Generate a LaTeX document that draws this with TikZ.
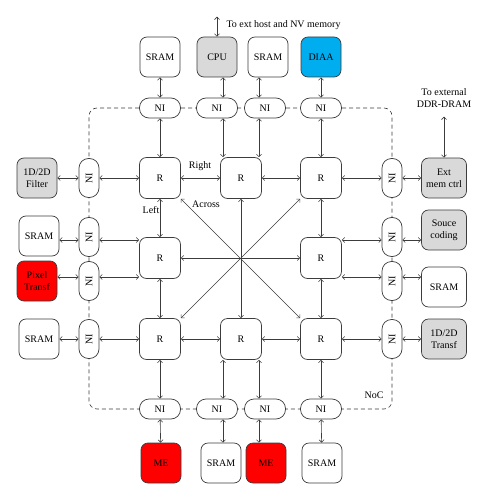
\documentclass[tikz,border=0pt]{standalone}
\usepackage{fontspec}
\setmainfont{Liberation Serif}
\usetikzlibrary{arrows.meta,backgrounds}
\definecolor{linegray}{RGB}{60,60,60}
\definecolor{unitgray}{RGB}{217,217,217}
\definecolor{diaablue}{RGB}{0,174,239}
\definecolor{unitred}{RGB}{255,0,0}
\begin{document}
\begin{tikzpicture}[x=1pt,y=-1pt,
    font=\fontsize{10}{12}\selectfont,
    >={Straight Barb[length=2.5pt,width=5pt]},
    unit/.style={draw=linegray, line width=0.7pt, rounded corners=7pt, fill=white,
        minimum width=40pt, minimum height=40pt, inner sep=1pt, align=center},
    router/.style={unit, minimum width=41pt, minimum height=41pt},
    ni/.style={draw=linegray, line width=0.7pt, rounded corners=9.5pt, fill=white,
        minimum width=41pt, minimum height=20pt, inner sep=0pt},
    nivert/.style={ni, minimum width=20pt, minimum height=39pt},
    link/.style={draw=linegray, line width=0.6pt, <->},
    noc/.style={draw=linegray, line width=0.6pt, dash pattern=on 4pt off 3pt, rounded corners=8pt}]
    \useasboundingbox (0,0) rectangle (489,500);

    % Routers (ring of eight)
    \node[router] (r11) at (160,178) {R};
    \node[router] (r12) at (241,178) {R};
    \node[router] (r13) at (321,178) {R};
    \node[router] (r21) at (160,258) {R};
    \node[router] (r23) at (321,258) {R};
    \node[router] (r31) at (160,339) {R};
    \node[router] (r32) at (241,339) {R};
    \node[router] (r33) at (321,339) {R};

    % Network interfaces
    \node[ni] (nt1) at (160,108) {NI};
    \node[ni] (nt2) at (217,108) {NI};
    \node[ni] (nt3) at (265,108) {NI};
    \node[ni] (nt4) at (321,108) {NI};
    \node[ni] (nb1) at (160,409) {NI};
    \node[ni] (nb2) at (217,409) {NI};
    \node[ni] (nb3) at (265,409) {NI};
    \node[ni] (nb4) at (321,409) {NI};
    \node[nivert] (nl1) at (89,178) {\rotatebox{90}{NI}};
    \node[nivert] (nl2) at (89,237) {\rotatebox{90}{NI}};
    \node[nivert] (nl3) at (89,281) {\rotatebox{90}{NI}};
    \node[nivert] (nl4) at (89,339) {\rotatebox{90}{NI}};
    \node[nivert] (nr1) at (392,178) {\rotatebox{90}{NI}};
    \node[nivert] (nr2) at (392,237) {\rotatebox{90}{NI}};
    \node[nivert] (nr3) at (392,281) {\rotatebox{90}{NI}};
    \node[nivert] (nr4) at (392,339) {\rotatebox{90}{NI}};

    % NoC ring behind the NIs
    \begin{scope}[on background layer]
        \draw[noc] (nt1.center) -| (nr4.center) |- (nb1.center) -| (nl1.center) |- (nt1.center);
    \end{scope}
    \node (noclbl) at (374,395) {NoC};

    % Units on the four sides
    \node[unit] (sramt1) at (160,57) {SRAM};
    \node[unit, fill=unitgray] (cpu) at (217,57) {CPU};
    \node[unit] (sramt2) at (268,57) {SRAM};
    \node[unit, fill=diaablue] (diaa) at (321,57) {DIAA};
    \node[unit, fill=unitred] (me1) at (161,463) {ME};
    \node[unit] (sramb1) at (221,463) {SRAM};
    \node[unit, fill=unitred] (me2) at (266,463) {ME};
    \node[unit] (sramb2) at (322,463) {SRAM};
    \node[unit, fill=unitgray] (filter) at (37,178) {1D/2D\\Filter};
    \node[unit] (sraml1) at (39,236) {SRAM};
    \node[unit, fill=unitred] (pixel) at (37,281) {Pixel\\Transf};
    \node[unit] (sraml2) at (39,339) {SRAM};
    \node[unit, fill=unitgray, minimum width=45pt] (extmem) at (444,178) {Ext\\mem ctrl};
    \node[unit, fill=unitgray, minimum width=45pt] (souce) at (444,230) {Souce\\coding};
    \node[unit, minimum width=45pt] (sramr) at (444,287) {SRAM};
    \node[unit, fill=unitgray, minimum width=45pt] (transf) at (444,339) {1D/2D\\Transf};

    % off-centre link lines for the middle routers
    \coordinate (xa) at (223,0);
    \coordinate (xb) at (259,0);
    \coordinate (ya) at (0,240);
    \coordinate (yb) at (0,277);

    % Router to router
    \draw[link] (r11) -- (r12);
    \draw[link] (r12) -- (r13);
    \draw[link] (r31) -- (r32);
    \draw[link] (r32) -- (r33);
    \draw[link] (r11) -- (r21);
    \draw[link] (r21) -- (r31);
    \draw[link] (r13) -- (r23);
    \draw[link] (r23) -- (r33);
    \draw[link] (r11) -- (r33);
    \draw[link] (r13) -- (r31);
    \draw[link] (r12) -- (r32);
    \draw[link] (r21) -- (r23);
    \node (rightlbl) at (200,166) {Right};
    \node (leftlbl) at (151,210) {Left};
    \node (acrosslbl) at (206,204) {Across};

    % Top side
    \draw[link] (sramt1) -- (nt1);
    \draw[link] (nt1) -- (r11);
    \draw[link] (cpu.south -| xa) -- (nt2.north -| xa);
    \draw[link] (nt2.south -| xa) -- (r12.north -| xa);
    \draw[link] (sramt2.south -| xb) -- (nt3.north -| xb);
    \draw[link] (nt3.south -| xb) -- (r12.north -| xb);
    \draw[link] (diaa) -- (nt4);
    \draw[link] (nt4) -- (r13);

    % Bottom side
    \draw[link] (r31) -- (nb1);
    \draw[link] (nb1) -- (me1);
    \draw[link] (r32.south -| xa) -- (nb2.north -| xa);
    \draw[link] (nb2.south -| xa) -- (sramb1.north -| xa);
    \draw[link] (r32.south -| xb) -- (nb3.north -| xb);
    \draw[link] (nb3.south -| xb) -- (me2.north -| xb);
    \draw[link] (r33) -- (nb4);
    \draw[link] (nb4) -- (sramb2);

    % Left side
    \draw[link] (filter) -- (nl1);
    \draw[link] (nl1) -- (r11);
    \draw[link] (sraml1.east |- ya) -- (nl2.west |- ya);
    \draw[link] (nl2.east |- ya) -- (r21.west |- ya);
    \draw[link] (pixel.east |- yb) -- (nl3.west |- yb);
    \draw[link] (nl3.east |- yb) -- (r21.west |- yb);
    \draw[link] (sraml2) -- (nl4);
    \draw[link] (nl4) -- (r31);

    % Right side
    \draw[link] (r13) -- (nr1);
    \draw[link] (nr1) -- (extmem);
    \draw[link] (r23.east |- ya) -- (nr2.west |- ya);
    \draw[link] (nr2.east |- ya) -- (souce.west |- ya);
    \draw[link] (r23.east |- yb) -- (nr3.west |- yb);
    \draw[link] (nr3.east |- yb) -- (sramr.west |- yb);
    \draw[link] (r33) -- (nr4);
    \draw[link] (nr4) -- (transf);

    % External connections
    \coordinate (hostend) at ([yshift=20pt]cpu.north);
    \draw[link] (cpu) -- (hostend);
    \node[anchor=west] (hostlbl) at ([xshift=6pt,yshift=-8pt]hostend) {To ext host and NV memory};
    \coordinate (ddrend) at ([yshift=41pt]extmem.north);
    \draw[link] (extmem) -- (ddrend);
    \node[anchor=south, align=center] (ddrlbl) at ([yshift=6pt]ddrend) {To external\\DDR-DRAM};
\end{tikzpicture}
\end{document}
